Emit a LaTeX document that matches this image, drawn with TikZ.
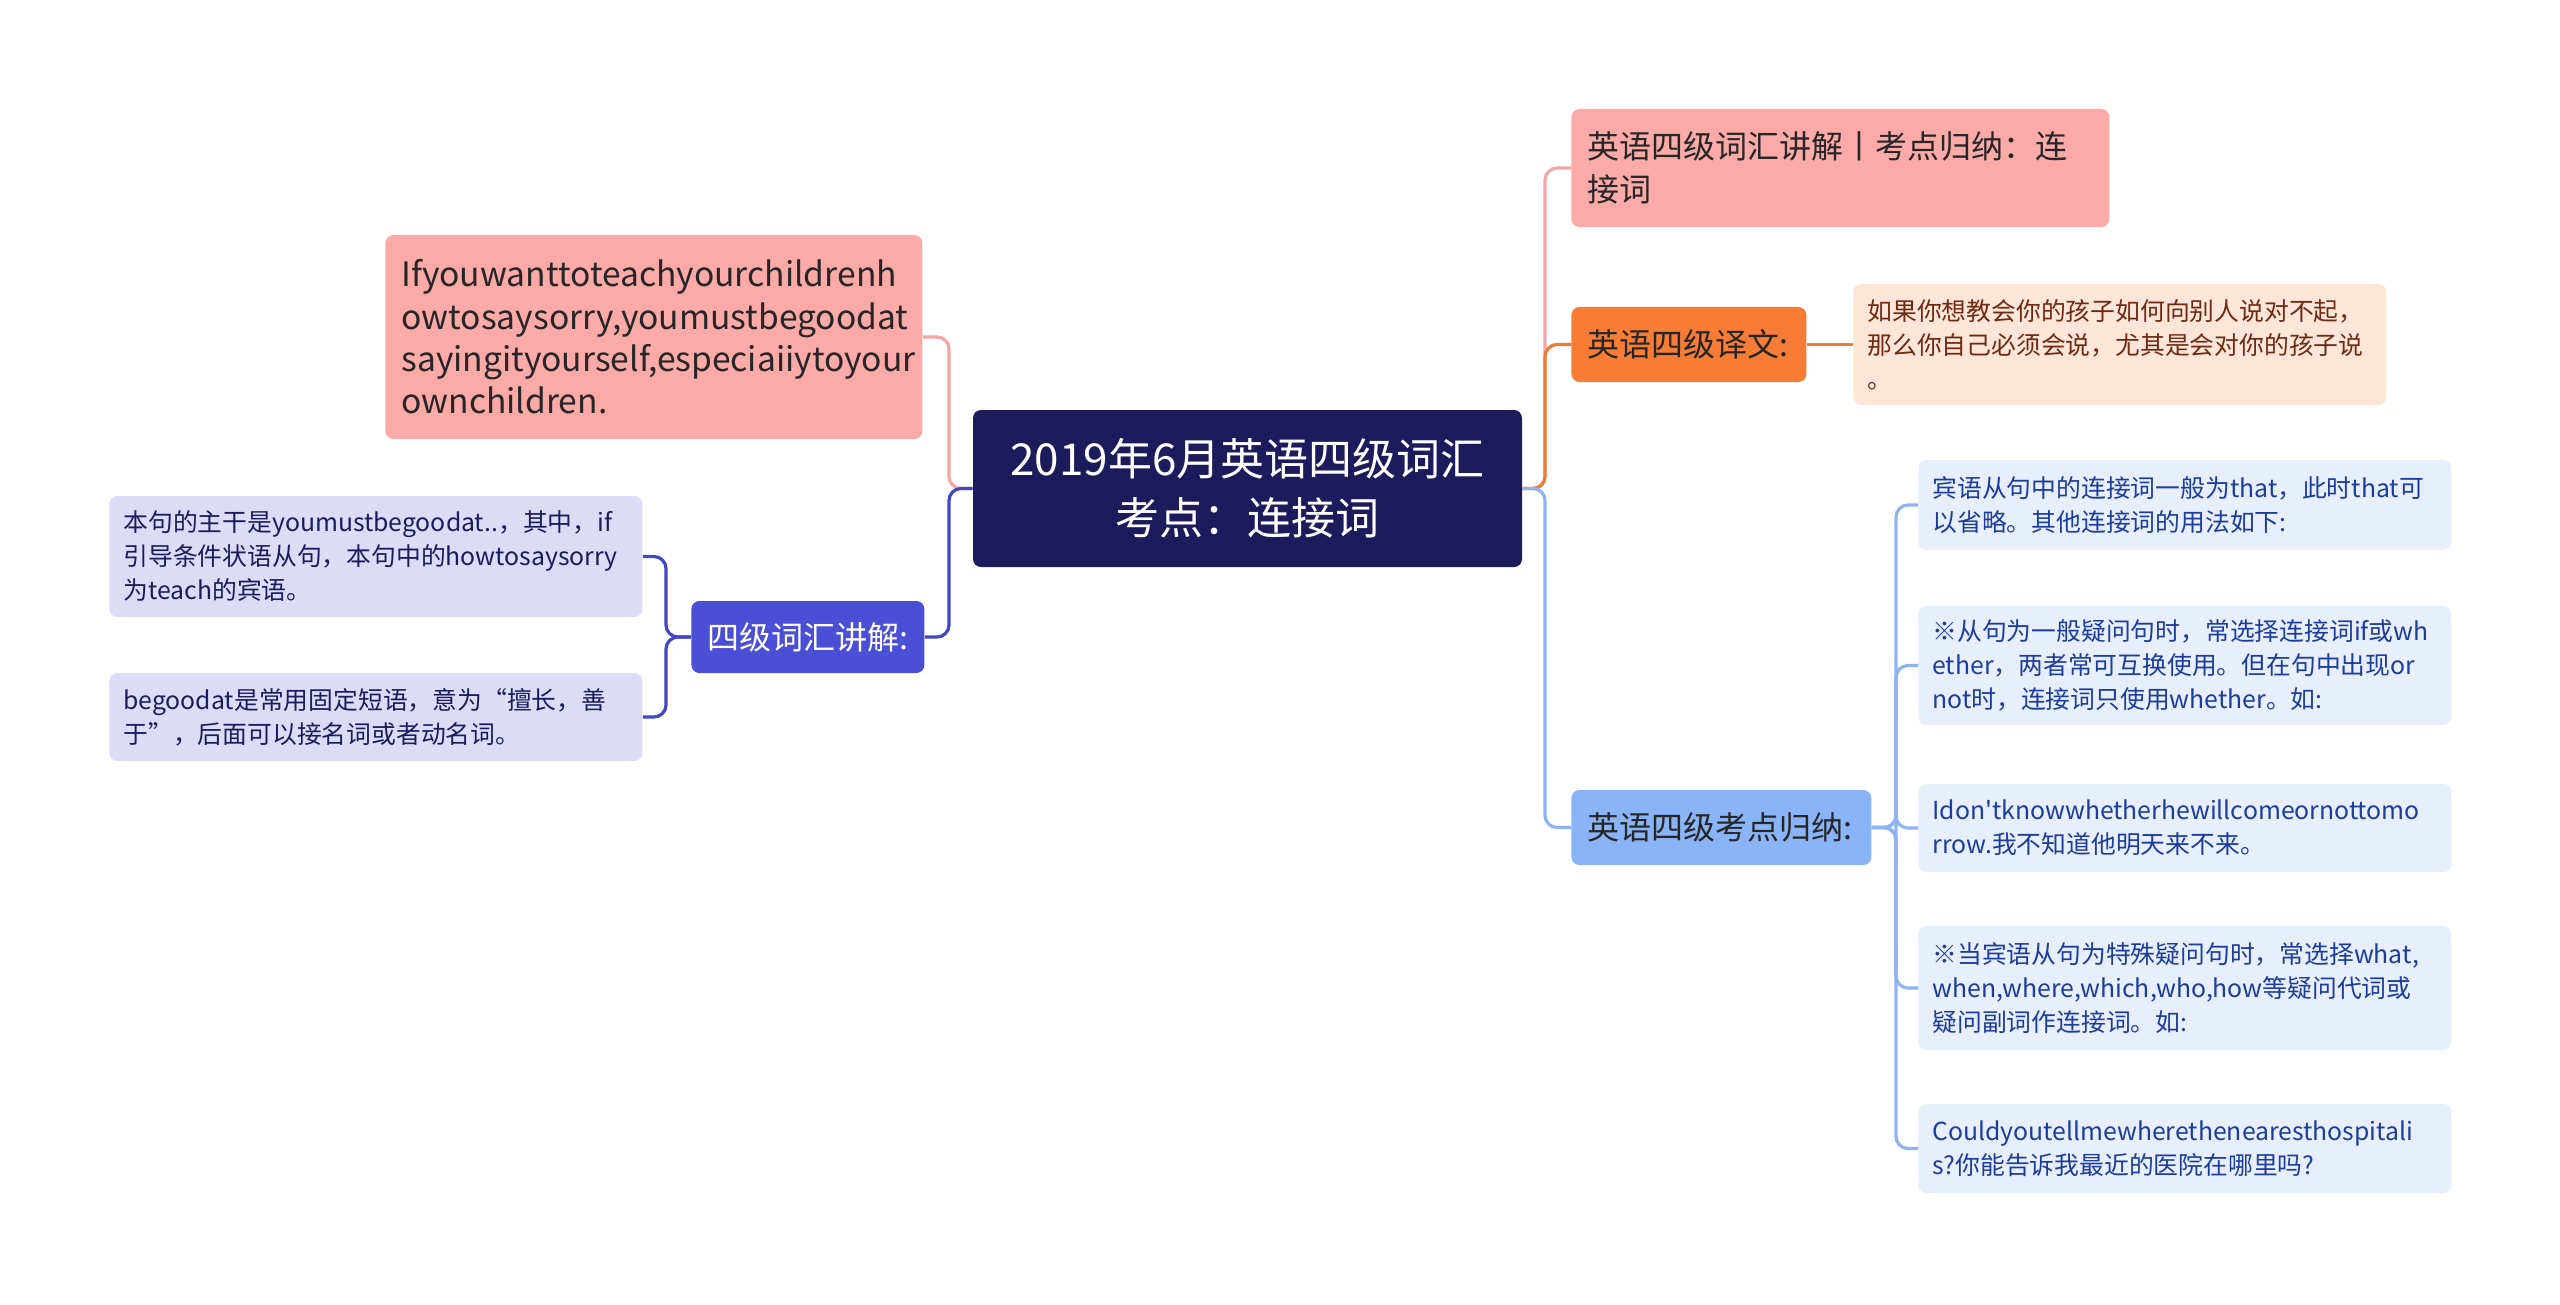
\documentclass[tikz,border=0pt]{standalone}
\usepackage{fontspec}
\setmainfont{Noto Sans CJK SC}
\definecolor{rootfill}{HTML}{1E1B5C}
\definecolor{pinkfill}{HTML}{FBAAA8}
\definecolor{pinkline}{HTML}{F4A6A6}
\definecolor{violetfill}{HTML}{4A4FD6}
\definecolor{violetline}{HTML}{4246C4}
\definecolor{lavender}{HTML}{DCDCF7}
\definecolor{orangefill}{HTML}{F77C35}
\definecolor{orangeline}{HTML}{F07B35}
\definecolor{peach}{HTML}{FDE5D8}
\definecolor{peachtext}{HTML}{6E2B12}
\definecolor{skyfill}{HTML}{8AB4F8}
\definecolor{skyline}{HTML}{8DB3F0}
\definecolor{icefill}{HTML}{E7EEFC}
\definecolor{icetext}{HTML}{1D3C9C}
\tikzset{
    box/.style={rectangle, rounded corners=4pt, anchor=west, align=left, inner xsep=7pt, inner ysep=0pt},
    rootbox/.style={box, anchor=center, align=center, fill=rootfill, text=white, font=\fontsize{22}{29.5}\selectfont},
    topic/.style={box, inner xsep=8pt, font=\fontsize{16}{21.2}\selectfont},
    leaf/.style={box, text width=252.5pt, font=\fontsize{12.4}{17}\selectfont},
    link/.style={line width=1.6pt, rounded corners=6pt}
}
\begin{document}
\begin{tikzpicture}[x=0.5pt, y=-0.5pt]
\useasboundingbox (0,0) rectangle (2560,1305);

% Nodes
\node (root) [rootbox, minimum width=274.5pt, minimum height=78.5pt] at (1247.5,488.5) {2019年6月英语四级词汇\\考点：连接词};

\node (lpink) [topic, fill=pinkfill, text=black!85, text width=252.5pt, minimum height=102pt, font=\fontsize{16.8}{21.2}\selectfont] at (385,337) {Ifyouwanttoteachyourchildrenh\\owtosaysorry,youmustbegoodat\\sayingityourself,especiaiiytoyour\\ownchildren.};
\node (lmid) [topic, fill=violetfill, text=white, text width=100.5pt, minimum height=36pt] at (691,637) {四级词汇讲解:};
\node (ll1) [leaf, fill=lavender, text=rootfill, minimum height=60.5pt] at (109,556.5) {本句的主干是youmustbegoodat..，其中，if\\引导条件状语从句，本句中的howtosaysorry\\为teach的宾语。};
\node (ll2) [leaf, fill=lavender, text=rootfill, minimum height=44pt] at (109,717) {begoodat是常用固定短语，意为“擅长，善\\于”，后面可以接名词或者动名词。};

\node (rpink) [topic, fill=pinkfill, text=black!85, text width=253pt, minimum height=59pt] at (1571,168) {英语四级词汇讲解丨考点归纳：连\\接词};
\node (rorange) [topic, fill=orangefill, text=black!85, text width=101.5pt, minimum height=37.5pt] at (1571,344.5) {英语四级译文:};
\node (trans) [leaf, fill=peach, text=peachtext, minimum height=60.5pt] at (1853,344.5) {如果你想教会你的孩子如何向别人说对不起，\\那么你自己必须会说，尤其是会对你的孩子说\\。};
\node (rblue) [topic, fill=skyfill, text=black!85, text width=134pt, minimum height=37.5pt] at (1571,827.5) {英语四级考点归纳:};

\node (r1) [leaf, fill=icefill, text=icetext, minimum height=45pt] at (1918,505) {宾语从句中的连接词一般为that，此时that可\\以省略。其他连接词的用法如下:};
\node (r2) [leaf, fill=icefill, text=icetext, minimum height=59.5pt] at (1918,665.5) {※从句为一般疑问句时，常选择连接词if或wh\\ether，两者常可互换使用。但在句中出现or\\not时，连接词只使用whether。如:};
\node (r3) [leaf, fill=icefill, text=icetext, minimum height=44pt] at (1918,828) {Idon\textquotesingle tknowwhetherhewillcomeornottomo\\rrow.我不知道他明天来不来。};
\node (r4) [leaf, fill=icefill, text=icetext, minimum height=62pt] at (1918,988) {※当宾语从句为特殊疑问句时，常选择what,\\when,where,which,who,how等疑问代词或\\疑问副词作连接词。如:};
\node (r5) [leaf, fill=icefill, text=icetext, minimum height=44.5pt] at (1918,1148.5) {Couldyoutellmewherethenearesthospitali\\s?你能告诉我最近的医院在哪里吗?};

% Forks
\coordinate (lfork) at (949,488.5);
\coordinate (rfork) at (1545,488.5);
\coordinate (vfork) at (666,637);
\coordinate (kfork) at (1896,827.5);

% Connectors
\draw [link, pinkline] (root.west) -- (lfork) |- (lpink.east);
\draw [link, violetline] (root.west) -- (lfork) |- (lmid.east);
\foreach \i in {1,2}
    \draw [link, violetline] (lmid.west) -- (vfork) |- (ll\i.east);

\draw [link, pinkline] (root.east) -- (rfork) |- (rpink.west);
\draw [link, orangeline] (root.east) -- (rfork) |- (rorange.west);
\draw [link, skyline] (root.east) -- (rfork) |- (rblue.west);
\draw [link, orangeline] (rorange.east) -- (trans.west);
\foreach \i in {1,...,5}
    \draw [link, skyline] (rblue.east) -- (kfork) |- (r\i.west);

\end{tikzpicture}
\end{document}
